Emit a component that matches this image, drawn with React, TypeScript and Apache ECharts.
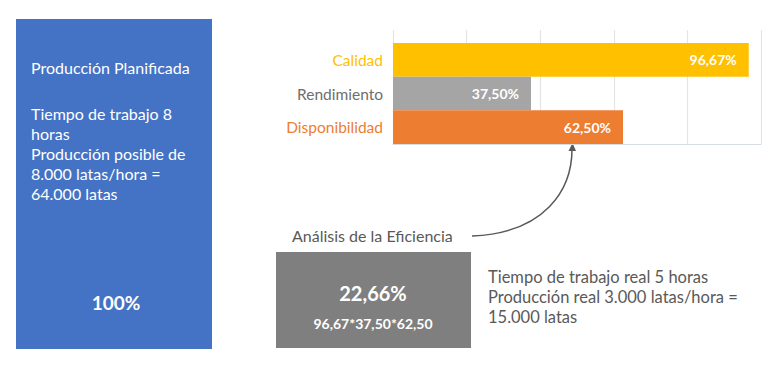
import React, { useEffect, useRef } from "react";
import * as echarts from "echarts";

const categories = ["Calidad", "Rendimiento", "Disponibilidad"];
const values = [96.67, 37.5, 62.5];
const barColors = ["#FFC000", "#A5A5A5", "#ED7D31"];
const labelColors = ["#FFC000", "#6E6E6E", "#ED7D31"];
const axisMin = 0;
const axisMax = 100;
const axisInterval = 20;

const plannedTitle = "Producción Planificada";
const plannedLines = [
  "Tiempo de trabajo 8",
  "horas",
  "Producción posible de",
  "8.000 latas/hora =",
  "64.000 latas",
];
const plannedPct = "100%";
const analysisTitle = "Análisis de la Eficiencia";
const efficiency = "22,66%";
const formula = "96,67*37,50*62,50";
const realLines = [
  "Tiempo de trabajo real 5 horas",
  "Producción real 3.000 latas/hora =",
  "15.000 latas",
];

const FONT = "Lato, 'Noto Sans', sans-serif";
const fmt = (v: number) => v.toFixed(2).replace(".", ",") + "%";

export default function App() {
  const ref = useRef<HTMLDivElement>(null);
  useEffect(() => {
    const chart = echarts.init(ref.current!, null, { renderer: "svg" });
    chart.setOption({
      animation: false,
      backgroundColor: "#ffffff",
      textStyle: { fontFamily: FONT },
      grid: [
        { left: 393, top: 43, width: 368, height: 101, containLabel: false },
        { left: 393, top: 30, width: 368, height: 114, containLabel: false },
      ],
      xAxis: [
        {
          type: "value",
          gridIndex: 0,
          min: axisMin,
          max: axisMax,
          interval: axisInterval,
          axisLine: { show: true, lineStyle: { color: "#D6DCE4", width: 1 } },
          axisTick: { show: false },
          axisLabel: { show: false },
          splitLine: { show: false },
        },
        {
          type: "value",
          gridIndex: 1,
          min: axisMin,
          max: axisMax,
          interval: axisInterval,
          axisLine: { show: false },
          axisTick: { show: false },
          axisLabel: { show: false },
          splitLine: { show: true, lineStyle: { color: "#E4E4E4", width: 1.2 } },
        },
      ],
      yAxis: [
        {
          type: "category",
          gridIndex: 0,
          data: categories,
          inverse: true,
          axisLine: { show: false },
          axisTick: { show: false },
          axisLabel: {
            margin: 10,
            fontSize: 15.5,
            fontFamily: FONT,
            color: (_v: string, i: number) => labelColors[i],
          },
        },
        { type: "value", gridIndex: 1, show: false },
      ],
      series: [
        {
          type: "bar",
          xAxisIndex: 0,
          yAxisIndex: 0,
          barCategoryGap: 0,
          data: values.map((v, i) => ({ value: v, itemStyle: { color: barColors[i] } })),
          label: {
            show: true,
            position: "insideRight",
            distance: 12,
            color: "#ffffff",
            fontWeight: "bold",
            fontSize: 14,
            fontFamily: FONT,
            formatter: (p: any) => fmt(p.value),
          },
        },
      ],
      graphic: [
        {
          type: "rect",
          shape: { x: 16, y: 19, width: 196, height: 330 },
          style: { fill: "#4472C4" },
        },
        {
          type: "text",
          x: 31,
          y: 67,
          style: {
            text: plannedTitle,
            fill: "#ffffff",
            font: `16px ${FONT}`,
            verticalAlign: "middle",
          },
        },
        ...plannedLines.map((t, i) => ({
          type: "text",
          x: 31,
          y: 113 + i * 20,
          style: {
            text: t,
            fill: "#ffffff",
            font: `16px ${FONT}`,
            verticalAlign: "middle",
          },
        })),
        {
          type: "text",
          x: 116,
          y: 302,
          style: {
            text: plannedPct,
            fill: "#ffffff",
            font: `bold 19px ${FONT}`,
            align: "center",
            verticalAlign: "middle",
          },
        },
        {
          type: "text",
          x: 292,
          y: 235,
          style: {
            text: analysisTitle,
            fill: "#595959",
            font: `16px ${FONT}`,
            verticalAlign: "middle",
          },
        },
        {
          type: "bezierCurve",
          shape: { x1: 472, y1: 236, cpx1: 545, cpy1: 233, cpx2: 572, cpy2: 190, x2: 572, y2: 149 },
          style: { stroke: "#595959", lineWidth: 1.5, fill: "none" },
        },
        {
          type: "polygon",
          shape: { points: [[572.5, 143], [568.5, 151], [576, 151]] },
          style: { fill: "#595959" },
        },
        {
          type: "rect",
          shape: { x: 276, y: 252, width: 195, height: 96 },
          style: { fill: "#7F7F7F" },
        },
        {
          type: "text",
          x: 373,
          y: 293,
          style: {
            text: efficiency,
            fill: "#ffffff",
            font: `bold 20px ${FONT}`,
            align: "center",
            verticalAlign: "middle",
          },
        },
        {
          type: "text",
          x: 373,
          y: 323,
          style: {
            text: formula,
            fill: "#ffffff",
            font: `bold 14px ${FONT}`,
            align: "center",
            verticalAlign: "middle",
          },
        },
        ...realLines.map((t, i) => ({
          type: "text",
          x: 488,
          y: 277 + i * 20,
          style: {
            text: t,
            fill: "#595959",
            font: `16.5px ${FONT}`,
            verticalAlign: "middle",
          },
        })),
      ],
    });
    return () => chart.dispose();
  }, []);
  return (
    <div
      ref={ref}
      style={{ position: "fixed", left: 0, top: 0, width: 768, height: 367 }}
    />
  );
}
